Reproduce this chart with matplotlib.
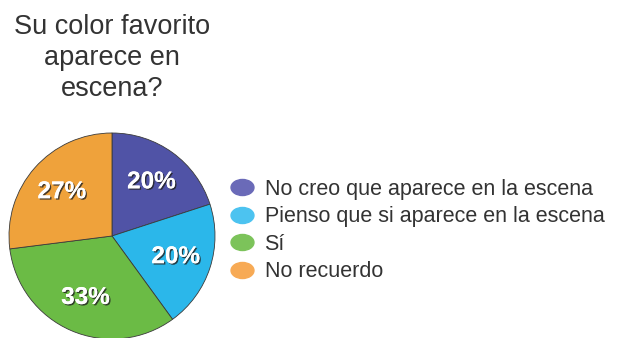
import matplotlib
matplotlib.use("Agg")
import matplotlib.pyplot as plt
import matplotlib.patheffects as pe
from matplotlib.lines import Line2D
from matplotlib.path import Path
from matplotlib.transforms import Affine2D

plt.rcParams['font.family'] = ['Liberation Sans', 'DejaVu Sans']

labels = ['No creo que aparece en la escena', 'Pienso que si aparece en la escena', 'Sí', 'No recuerdo']
values = [20, 20, 33, 27]
colors = ['#5053A6', '#2BB7EA', '#6BBB45', '#EFA23B']
legend_colors = ['#6A6AB8', '#4CC3F0', '#7CC35A', '#F7AA55']
title = 'Su color favorito\naparece en\nescena?'

fig = plt.figure(figsize=(6.21, 3.38), dpi=100)

# pie axes: centre ~ (112, 236) px, radius ~103 px
ax = fig.add_axes([9/621, (338-236-103)/338, 206/621, 206/338])
wedges, texts, autotexts = ax.pie(values, colors=colors, startangle=90, counterclock=False,
                                  radius=1, autopct='%d%%', pctdistance=0.65,
                                  wedgeprops=dict(edgecolor='#3a3a3a', linewidth=0.6))
for t in autotexts:
    t.set_color('white')
    t.set_fontsize(17.5)
    t.set_fontweight('bold')
    t.set_path_effects([pe.withSimplePatchShadow(offset=(1, -1), shadow_rgbFace='#222222', alpha=0.8),
                        pe.Normal()])
ax.set_xlim(-1, 1)
ax.set_ylim(-1, 1)
ax.set_aspect('equal')
ax.axis('off')

fig.text(112/621, 1 - 58/338, title, ha='center', va='center', fontsize=19.5,
         color='#333333', linespacing=1.27)

ellipse = Path.unit_circle().transformed(Affine2D().scale(1.0, 0.7))
handles = [Line2D([], [], marker=ellipse, linestyle='', markersize=16.5, color=c) for c in legend_colors]
fig.legend(handles, labels, loc='upper left', bbox_to_anchor=(229/621, 1 - 179/338),
           frameon=False, fontsize=15.5, labelspacing=0.3, handletextpad=0.45,
           handlelength=1.2, labelcolor='#333333', borderaxespad=0, borderpad=0)

plt.savefig('out.png', dpi=100)
plt.close()
